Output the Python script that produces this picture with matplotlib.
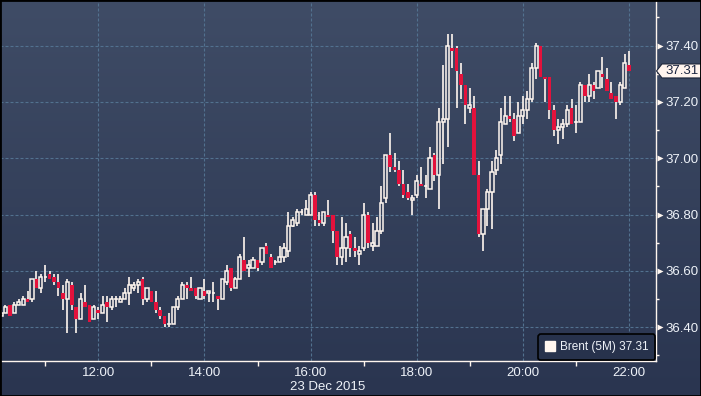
import matplotlib
matplotlib.use('Agg')
import matplotlib.pyplot as plt
import matplotlib.dates as mdates
import matplotlib.ticker as mticker
import matplotlib.transforms as mtransforms
from matplotlib.colors import LinearSegmentedColormap
from matplotlib.lines import Line2D
from matplotlib.patches import Polygon, Rectangle
import numpy as np
import pandas as pd

# Brent, 5 minute bars, 23 Dec 2015
first_bar = '2015-12-23 10:10'
bar_minutes = 5
series_label = 'Brent (5M)'
date_label = '23 Dec 2015'

opens = [
    36.44, 36.45, 36.48, 36.45, 36.48, 36.48, 36.50, 36.50, 36.57, 36.54,
    36.58, 36.59, 36.58, 36.56, 36.52, 36.50, 36.55, 36.47, 36.43, 36.49,
    36.48, 36.43, 36.46, 36.45, 36.49, 36.47, 36.50, 36.49, 36.50, 36.52,
    36.54, 36.55, 36.57, 36.50, 36.53, 36.49, 36.46, 36.44, 36.41, 36.41,
    36.47, 36.50, 36.55, 36.54, 36.54, 36.50, 36.53, 36.52, 36.52, 36.51,
    36.50, 36.56, 36.61, 36.54, 36.57, 36.64, 36.61, 36.61, 36.64, 36.63,
    36.69, 36.65, 36.63, 36.63, 36.65, 36.67, 36.76, 36.77, 36.81, 36.80,
    36.80, 36.87, 36.78, 36.77, 36.80, 36.80, 36.74, 36.65, 36.68, 36.73,
    36.68, 36.66, 36.68, 36.80, 36.69, 36.69, 36.74, 36.86, 37.01, 36.97,
    36.96, 36.91, 36.88, 36.85, 36.87, 36.91, 36.90, 36.89, 37.01, 36.94,
    37.13, 37.14, 37.39, 37.39, 37.30, 37.26, 37.18, 37.18, 36.94, 36.73,
    36.82, 36.88, 36.96, 37.01, 37.12, 37.15, 37.14, 37.09, 37.15, 37.17,
    37.21, 37.32, 37.40, 37.29, 37.29, 37.17, 37.10, 37.11, 37.12, 37.18,
    37.13, 37.13, 37.26, 37.22, 37.26, 37.25, 37.30, 37.28, 37.23, 37.22,
    37.20, 37.25, 37.33,
]
highs = [
    36.46, 36.48, 36.48, 36.49, 36.50, 36.51, 36.53, 36.57, 36.60, 36.59,
    36.62, 36.60, 36.59, 36.59, 36.55, 36.57, 36.56, 36.47, 36.52, 36.55,
    36.48, 36.48, 36.47, 36.51, 36.51, 36.51, 36.51, 36.51, 36.54, 36.58,
    36.56, 36.57, 36.58, 36.54, 36.53, 36.53, 36.47, 36.44, 36.45, 36.47,
    36.51, 36.56, 36.56, 36.58, 36.54, 36.54, 36.57, 36.53, 36.56, 36.51,
    36.57, 36.62, 36.61, 36.58, 36.66, 36.72, 36.64, 36.65, 36.64, 36.68,
    36.70, 36.66, 36.64, 36.69, 36.70, 36.81, 36.79, 36.82, 36.82, 36.85,
    36.88, 36.88, 36.81, 36.81, 36.85, 36.80, 36.74, 36.79, 36.77, 36.74,
    36.72, 36.69, 36.84, 36.81, 36.77, 36.79, 36.90, 37.01, 37.09, 37.02,
    36.99, 36.96, 36.91, 36.87, 36.94, 36.97, 36.94, 37.04, 37.02, 37.18,
    37.33, 37.44, 37.44, 37.40, 37.34, 37.26, 37.25, 37.22, 36.99, 36.82,
    36.89, 36.99, 37.03, 37.18, 37.22, 37.22, 37.16, 37.20, 37.22, 37.24,
    37.34, 37.41, 37.40, 37.29, 37.29, 37.19, 37.14, 37.14, 37.19, 37.21,
    37.19, 37.27, 37.26, 37.30, 37.27, 37.31, 37.36, 37.32, 37.27, 37.22,
    37.27, 37.37, 37.38,
]
lows = [
    36.44, 36.45, 36.44, 36.45, 36.48, 36.48, 36.49, 36.49, 36.54, 36.52,
    36.56, 36.57, 36.55, 36.51, 36.46, 36.38, 36.46, 36.38, 36.43, 36.47,
    36.42, 36.43, 36.43, 36.45, 36.42, 36.46, 36.47, 36.49, 36.50, 36.48,
    36.53, 36.52, 36.48, 36.49, 36.49, 36.45, 36.43, 36.40, 36.40, 36.41,
    36.46, 36.50, 36.50, 36.53, 36.50, 36.50, 36.50, 36.49, 36.49, 36.46,
    36.50, 36.55, 36.53, 36.54, 36.57, 36.60, 36.58, 36.61, 36.60, 36.62,
    36.66, 36.61, 36.62, 36.63, 36.63, 36.65, 36.755, 36.76, 36.80, 36.80,
    36.80, 36.76, 36.76, 36.76, 36.79, 36.70, 36.62, 36.62, 36.63, 36.65,
    36.65, 36.62, 36.67, 36.68, 36.67, 36.69, 36.73, 36.84, 36.95, 36.95,
    36.90, 36.86, 36.85, 36.80, 36.86, 36.90, 36.86, 36.89, 36.92, 36.82,
    36.98, 37.04, 37.32, 37.18, 37.21, 37.12, 37.16, 36.94, 36.72, 36.67,
    36.76, 36.75, 36.94, 36.98, 37.12, 37.13, 37.06, 37.09, 37.12, 37.14,
    37.20, 37.28, 37.29, 37.20, 37.14, 37.08, 37.05, 37.07, 37.11, 37.12,
    37.09, 37.13, 37.20, 37.20, 37.21, 37.25, 37.25, 37.24, 37.21, 37.14,
    37.19, 37.25, 37.31,
]
closes = [
    36.45, 36.47, 36.44, 36.48, 36.49, 36.50, 36.49, 36.57, 36.54, 36.58,
    36.58, 36.57, 36.56, 36.54, 36.50, 36.56, 36.48, 36.43, 36.50, 36.47,
    36.42, 36.47, 36.45, 36.48, 36.47, 36.50, 36.50, 36.50, 36.52, 36.55,
    36.55, 36.56, 36.50, 36.54, 36.49, 36.46, 36.44, 36.41, 36.41, 36.47,
    36.50, 36.55, 36.54, 36.53, 36.51, 36.54, 36.51, 36.53, 36.52, 36.50,
    36.57, 36.60, 36.54, 36.57, 36.65, 36.60, 36.62, 36.64, 36.61, 36.68,
    36.66, 36.61, 36.63, 36.65, 36.68, 36.76, 36.78, 36.81, 36.81, 36.82,
    36.87, 36.78, 36.77, 36.81, 36.79, 36.74, 36.65, 36.68, 36.72, 36.68,
    36.67, 36.67, 36.80, 36.70, 36.70, 36.74, 36.84, 37.01, 36.97, 36.96,
    36.91, 36.87, 36.86, 36.86, 36.92, 36.90, 36.90, 37.00, 36.94, 37.13,
    37.14, 37.40, 37.38, 37.31, 37.26, 37.19, 37.19, 36.94, 36.73, 36.82,
    36.88, 36.95, 37.00, 37.13, 37.15, 37.14, 37.08, 37.15, 37.17, 37.21,
    37.32, 37.40, 37.29, 37.28, 37.17, 37.10, 37.11, 37.12, 37.17, 37.12,
    37.13, 37.26, 37.22, 37.26, 37.24, 37.31, 37.29, 37.24, 37.21, 37.20,
    37.26, 37.34, 37.31,
]

# style
UP_COLOR = '#fff6ef'
DOWN_COLOR = '#e3123c'
GRID_COLOR = '#52718f'
TEXT_COLOR = '#eef2f8'
BG_TOP = '#3f4c66'
BG_BOTTOM = '#2a3550'

W, H = 701, 396            # figure size in pixels
AX_RIGHT, AX_BOTTOM = 656, 361   # plot area edges in pixels (from top-left)

plt.rcParams['font.family'] = ['Liberation Sans', 'DejaVu Sans']


def add_background(fig):
    """Vertical gradient behind everything."""
    bg = fig.add_axes([0, 0, 1, 1], zorder=-10)
    cmap = LinearSegmentedColormap.from_list('bg', [BG_BOTTOM, BG_TOP])
    grad = np.linspace(0, 1, 256).reshape(-1, 1)
    bg.imshow(grad, aspect='auto', cmap=cmap, origin='lower', extent=[0, 1, 0, 1])
    bg.axis('off')


def draw_candles(ax, x, o, h, l, c, body_w):
    o, h, l, c = map(np.asarray, (o, h, l, c))
    top = np.maximum(o, c)
    bot = np.minimum(o, c)
    # wicks above and below the body, so hollow bodies stay empty
    ax.vlines(x, top, h, color=UP_COLOR, lw=1.2, zorder=3)
    ax.vlines(x, l, bot, color=UP_COLOR, lw=1.2, zorder=3)
    up = c >= o
    ax.bar(x[up], top[up] - bot[up], bottom=bot[up], width=body_w,
           facecolor='none', edgecolor=UP_COLOR, lw=1.1, zorder=4)
    ax.bar(x[~up], top[~up] - bot[~up], bottom=bot[~up], width=body_w * 1.15,
           color=DOWN_COLOR, lw=0, zorder=4)


def price_tag(fig, ax, value):
    """Last price marker on the right axis."""
    x1 = ax.bbox.x1
    yc = ax.transData.transform((0, value))[1]
    pts = [(x1 + 0.5, yc), (x1 + 6, yc + 7), (W, yc + 7), (W, yc - 7), (x1 + 6, yc - 7)]
    ident = mtransforms.IdentityTransform()
    fig.add_artist(Polygon(pts, closed=True, transform=ident,
                           facecolor='#fff4ee', edgecolor='#1b2438', lw=0.8, zorder=20))
    fig.text(x1 + 9, yc, f'{value:.2f}', transform=ident, color='#1b2540',
             fontsize=9.5, va='center', ha='left', zorder=21)


fig = plt.figure(figsize=(W / 100, H / 100), dpi=100)
add_background(fig)
ax = fig.add_axes([0, (H - AX_BOTTOM) / H, AX_RIGHT / W, AX_BOTTOM / H])
ax.set_facecolor('none')

times = pd.date_range(first_bar, periods=len(closes), freq=f'{bar_minutes}min')
x = mdates.date2num(times.to_pydatetime())
draw_candles(ax, x, opens, highs, lows, closes, body_w=3.6 / 1440)

ax.set_xlim(mdates.date2num(pd.Timestamp('2015-12-23 10:08:53')),
            mdates.date2num(pd.Timestamp('2015-12-23 22:30:30')))
ax.set_ylim(36.28, 37.562)

# x axis: labels at even hours, small ticks at odd hours
ax.xaxis.set_major_locator(mdates.HourLocator(byhour=range(0, 24, 2)))
ax.xaxis.set_major_formatter(mdates.DateFormatter('%H:%M'))
ax.xaxis.set_minor_locator(mdates.HourLocator(byhour=range(1, 24, 2)))
ax.tick_params(axis='x', which='major', length=0, pad=4, labelsize=9.5, labelcolor=TEXT_COLOR)
ax.tick_params(axis='x', which='minor', length=3.5, width=1, color=UP_COLOR, direction='out')
ax.text(0.5, -26 / AX_BOTTOM, date_label, transform=ax.transAxes, ha='center',
        va='center', fontsize=9.5, color=TEXT_COLOR)

# y axis on the right
ax.yaxis.tick_right()
ax.yaxis.set_major_locator(mticker.MultipleLocator(0.2))
ax.yaxis.set_minor_locator(mticker.MultipleLocator(0.1))
ax.yaxis.set_major_formatter(mticker.FormatStrFormatter('%.2f'))
ax.tick_params(axis='y', which='major', length=0, pad=6.5, labelsize=9.5, labelcolor=TEXT_COLOR)
ax.tick_params(axis='y', which='minor', length=2.5, width=1, color=UP_COLOR, direction='out')
yt = [t for t in ax.get_yticks() if 36.28 < t < 37.562]
ax.plot([1.0065] * len(yt), yt, ls='none', marker='>', ms=4.5, color=UP_COLOR,
        mec='none', transform=ax.get_yaxis_transform(), clip_on=False, zorder=6)

ax.grid(True, which='major', color=GRID_COLOR, ls=(0, (2.7, 1.8)), lw=0.8)
ax.set_axisbelow(True)

for side in ('top', 'left'):
    ax.spines[side].set_visible(False)
for side in ('right', 'bottom'):
    ax.spines[side].set_color(UP_COLOR)
    ax.spines[side].set_linewidth(1.0)

handle = Line2D([], [], ls='none', marker='s', ms=6.5, mfc=UP_COLOR, mec=UP_COLOR)
leg = ax.legend([handle], [f'{series_label} {closes[-1]:.2f}'], loc='lower right',
                fontsize=8.5, labelcolor=TEXT_COLOR, facecolor='#27324c', edgecolor='black',
                framealpha=1, fancybox=True, handlelength=0.7, handletextpad=0.5,
                borderpad=0.6, borderaxespad=0.05)
leg.get_frame().set_linewidth(1.2)
leg.set_zorder(10)

price_tag(fig, ax, closes[-1])

fig.add_artist(Rectangle((0, 0), 1, 1, transform=fig.transFigure, fill=False,
                         edgecolor='black', lw=2, zorder=30))

fig.savefig('out.png', dpi=100)
